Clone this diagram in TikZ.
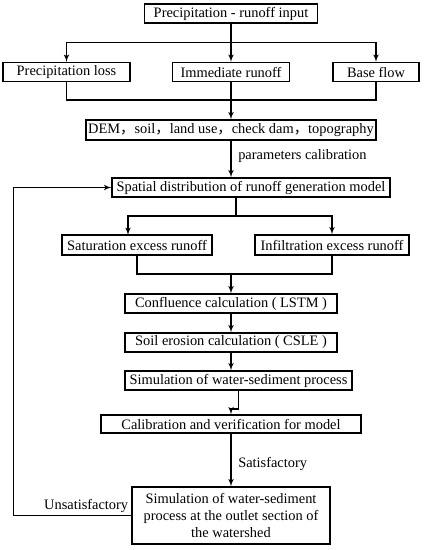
\documentclass[tikz,border=0pt]{standalone}
\usepackage{fontspec}
\setmainfont{Liberation Serif}
\newfontfamily\cjk{Noto Sans CJK SC}
\usetikzlibrary{shapes, arrows}

\begin{document}
\begin{tikzpicture}[x=0.75pt, y=-0.75pt, line width=0.9pt, font=\fontsize{10.8}{13.1}\selectfont]
  \tikzstyle{process} = [rectangle, draw, text centered, inner sep=1pt, minimum height=14.25pt]
  \tikzstyle{connector} = [draw, -latex']
  \tikzstyle{note} = [inner sep=2pt]
  \useasboundingbox (0,0) rectangle (424,550);
  \node [process, minimum width=129.75pt] (start) at (231,13.5) {Precipitation - runoff input};
  \node [process, minimum width=95.25pt] (precipLoss) at (66.5,72) {Precipitation loss};
  \node [process, minimum width=87.75pt] (immediateRunoff) at (231,72) {Immediate runoff};
  \node [process, minimum width=64.5pt] (baseFlow) at (376,72) {Base flow};
  \node [process, minimum width=217.5pt, minimum height=15pt] (basinData) at (231,130) {DEM{\cjk ，}soil{\cjk ，}land use{\cjk ，}check dam{\cjk ，}topography};
  \node [process, minimum width=208.5pt] (spatialModel) at (251,187.5) {Spatial distribution of runoff generation model};
  \node [process, minimum width=112.5pt, minimum height=15pt] (saturationRunoff) at (137,245) {Saturation excess runoff};
  \node [process, minimum width=115.5pt, minimum height=15pt] (infiltrationRunoff) at (332,245) {Infiltration excess runoff};
  \node [process, minimum width=159pt] (confluence) at (231,303.5) {Confluence calculation ( LSTM )};
  \node [process, minimum width=159pt] (soilErosion) at (231,342.5) {Soil erosion calculation ( CSLE )};
  \node [process, minimum width=170.25pt] (simulation) at (238.5,380.5) {Simulation of water-sediment process};
  \node [process, minimum width=195pt, minimum height=13.5pt] (calibration) at (231,424) {Calibration and verification for model};
  \node [process, minimum width=148.5pt, minimum height=42.75pt, align=center] (outlet) at (231,515.5) {Simulation of water-sediment\\process at the outlet section of\\the watershed};
  \coordinate (inputSplit) at (231,42.7);
  \coordinate (lossMerge) at (231,100);
  \coordinate (modelSplit) at (236,216);
  \coordinate (saturationIn) at (128,235);
  \coordinate (runoffMerge) at (231,274);
  \coordinate (simulationJog) at (231,409);
  \path [draw] (start) -- (inputSplit);
  \path [connector] (inputSplit) -| (precipLoss);
  \path [connector] (inputSplit) -- (immediateRunoff);
  \path [connector] (inputSplit) -| (baseFlow);
  \path [draw] (precipLoss) |- (lossMerge) -| (baseFlow);
  \path [connector] (immediateRunoff) -- (basinData);
  \path [connector] (basinData) -- node [note, right=3pt, pos=0.42] {parameters calibration} (basinData |- spatialModel.north);
  \path [draw] (spatialModel.south -| modelSplit) -- (modelSplit);
  \path [connector] (modelSplit) -| (saturationIn);
  \path [connector] (modelSplit) -| (infiltrationRunoff);
  \path [draw] (saturationRunoff) |- (runoffMerge) -| (infiltrationRunoff);
  \path [connector] (runoffMerge) -- (confluence);
  \path [connector] (confluence) -- (soilErosion);
  \path [connector] (soilErosion) -- (soilErosion |- simulation.north);
  \path [connector] (simulation) |- (simulationJog) -- (calibration);
  \path [connector] (calibration) -- node [note, right=3pt, pos=0.57] {Satisfactory} (outlet);
  \path [connector] (outlet.west) -- ++(-118,0) |- (spatialModel.west);
  \node [note, above left] at (outlet.west) {Unsatisfactory};
\end{tikzpicture}
\end{document}
